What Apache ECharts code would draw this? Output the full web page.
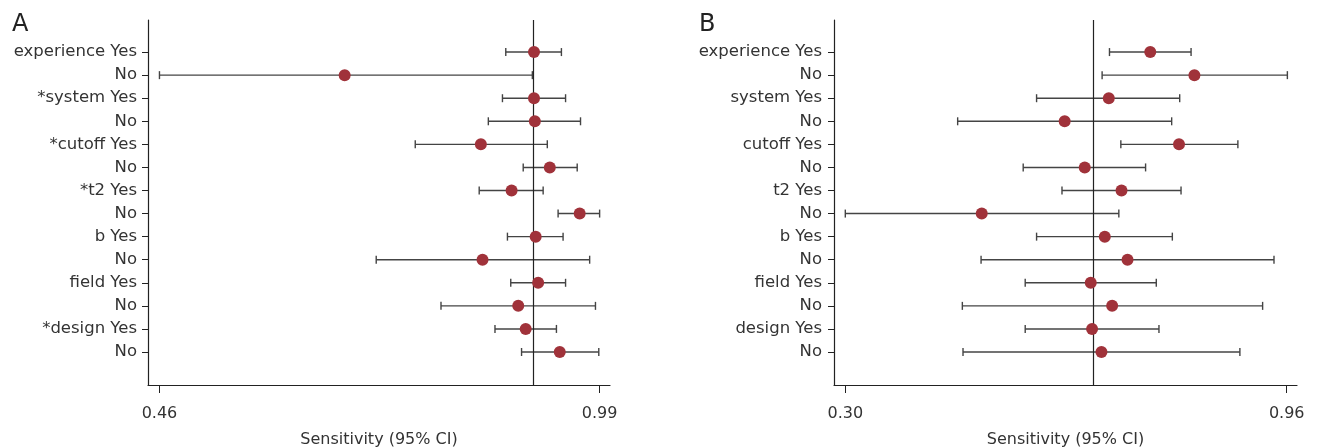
<!DOCTYPE html>
<html>
<head>
<meta charset="utf-8">
<script src="https://cdn.jsdelivr.net/npm/echarts@6/dist/echarts.min.js"></script>
<style>
  html, body { margin: 0; padding: 0; background: #fff; }
  #main { width: 1319px; height: 448px; }
</style>
</head>
<body>
<div id="main"></div>
<script>
// rows, top to bottom
var rows = [0, 1, 2, 3, 4, 5, 6, 7, 8, 9, 10, 11, 12, 13];
var labelsA = ['experience Yes', 'No', '*system Yes', 'No', '*cutoff Yes', 'No', '*t2 Yes', 'No',
               'b Yes', 'No', 'field Yes', 'No', '*design Yes', 'No'];
var labelsB = ['experience Yes', 'No', 'system Yes', 'No', 'cutoff Yes', 'No', 't2 Yes', 'No',
               'b Yes', 'No', 'field Yes', 'No', 'design Yes', 'No'];

// panel A - sensitivity and 95% CI
var estA  = [0.911, 0.683, 0.911, 0.912, 0.847, 0.930, 0.884, 0.966, 0.913, 0.849, 0.916, 0.892, 0.901, 0.942];
var lowA  = [0.877, 0.460, 0.873, 0.856, 0.768, 0.898, 0.845, 0.940, 0.879, 0.721, 0.883, 0.799, 0.864, 0.896];
var highA = [0.944, 0.909, 0.949, 0.967, 0.927, 0.963, 0.922, 0.990, 0.946, 0.978, 0.949, 0.985, 0.938, 0.989];
var pooledA = 0.912;
var ticksA = [0.46, 0.99];

// panel B
var estB  = [0.756, 0.822, 0.694, 0.628, 0.799, 0.658, 0.713, 0.504, 0.688, 0.722, 0.667, 0.699, 0.669, 0.683];
var lowB  = [0.695, 0.684, 0.586, 0.468, 0.712, 0.566, 0.624, 0.300, 0.586, 0.503, 0.569, 0.475, 0.569, 0.476];
var highB = [0.817, 0.961, 0.800, 0.788, 0.887, 0.749, 0.802, 0.709, 0.789, 0.941, 0.765, 0.924, 0.769, 0.890];
var pooledB = 0.672;
var ticksB = [0.30, 0.96];

var FONT = 'DejaVu Sans';
var TXT = '#333';
var AXIS = '#222';
var DOT = '#a0323a';

function errorBar(params, api) {
  var y = api.value(2);
  var p1 = api.coord([api.value(0), y]);
  var p2 = api.coord([api.value(1), y]);
  var h = 4;
  var style = { stroke: '#444', lineWidth: 1.4 };
  return {
    type: 'group',
    children: [
      { type: 'line', shape: { x1: p1[0], y1: p1[1], x2: p2[0], y2: p2[1] }, style: style },
      { type: 'line', shape: { x1: p1[0], y1: p1[1] - h, x2: p1[0], y2: p1[1] + h }, style: style },
      { type: 'line', shape: { x1: p2[0], y1: p2[1] - h, x2: p2[0], y2: p2[1] + h }, style: style }
    ]
  };
}

function xAxisFor(idx, ticks, min, max) {
  return {
    gridIndex: idx,
    type: 'value',
    min: min,
    max: max,
    name: 'Sensitivity (95% CI)',
    nameLocation: 'middle',
    nameGap: 47,
    nameTextStyle: { fontFamily: FONT, fontSize: 16, color: TXT },
    axisLine: { show: true, onZero: false, lineStyle: { color: AXIS, width: 1.2 } },
    axisTick: { show: true, customValues: ticks, length: 8, lineStyle: { color: AXIS } },
    axisLabel: {
      customValues: ticks, margin: 21,
      fontFamily: FONT, fontSize: 16, color: TXT,
      formatter: function (v) { return v.toFixed(2); }
    },
    splitLine: { show: false }
  };
}

function yAxisFor(idx, labels, margin) {
  return {
    gridIndex: idx,
    type: 'value',
    inverse: true,
    min: -1.39,
    max: 14.43,
    axisLine: { show: true, onZero: false, lineStyle: { color: AXIS, width: 1.2 } },
    axisTick: { show: true, customValues: rows, length: 6, lineStyle: { color: AXIS } },
    axisLabel: {
      customValues: rows, margin: margin,
      fontFamily: FONT, fontSize: 16.5, color: TXT,
      formatter: function (v) { return labels[v]; }
    },
    splitLine: { show: false }
  };
}

function panelSeries(idx, est, low, high, pooled) {
  var bars = rows.map(function (r) { return [low[r], high[r], r]; });
  var pts = rows.map(function (r) { return [est[r], r]; });
  return [
    {
      type: 'custom',
      xAxisIndex: idx, yAxisIndex: idx,
      renderItem: errorBar,
      encode: { x: [0, 1], y: 2 },
      data: bars,
      silent: true,
      z: 2,
      markLine: {
        silent: true,
        symbol: ['none', 'none'],
        label: { show: false },
        lineStyle: { color: AXIS, type: 'solid', width: 1.2 },
        data: [{ xAxis: pooled }]
      }
    },
    {
      type: 'scatter',
      xAxisIndex: idx, yAxisIndex: idx,
      symbol: 'circle',
      symbolSize: 12,
      itemStyle: { color: DOT, opacity: 1 },
      data: pts,
      z: 5
    }
  ];
}

var chart = echarts.init(document.getElementById('main'));
chart.setOption({
  animation: false,
  backgroundColor: '#fff',
  title: [
    { text: 'A', left: 7, top: 8, textStyle: { fontFamily: FONT, fontSize: 24, fontWeight: 'normal', color: '#222' } },
    { text: 'B', left: 694, top: 8, textStyle: { fontFamily: FONT, fontSize: 24, fontWeight: 'normal', color: '#222' } }
  ],
  grid: [
    { left: 148, top: 20, width: 462, bottom: 63, outerBoundsMode: 'none' },
    { left: 834, top: 20, width: 463, bottom: 63, outerBoundsMode: 'none' }
  ],
  xAxis: [
    xAxisFor(0, ticksA, 0.4462, 1.0025),
    xAxisFor(1, ticksB, 0.2831, 0.9754)
  ],
  yAxis: [
    yAxisFor(0, labelsA, 11),
    yAxisFor(1, labelsB, 12)
  ],
  series: panelSeries(0, estA, lowA, highA, pooledA).concat(panelSeries(1, estB, lowB, highB, pooledB))
});
</script>
</body>
</html>
